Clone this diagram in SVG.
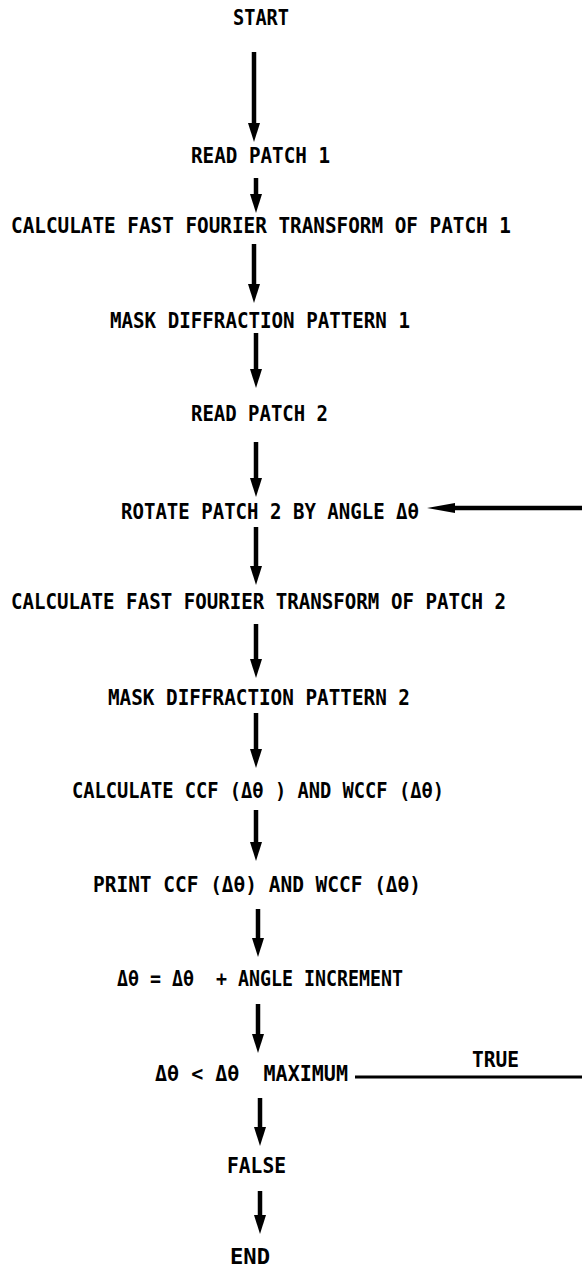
<svg xmlns="http://www.w3.org/2000/svg" width="582" height="1268" viewBox="0 0 582 1268">
<defs>
<style>
.t{font-family:"DejaVu Sans Mono","Liberation Mono",monospace;font-weight:bold;font-size:21px;fill:#000;white-space:pre}
.c{stroke:#000;stroke-width:4.5;fill:none}
.ln{stroke:#000;stroke-width:3;fill:none}
</style>
<marker id="ah" markerUnits="userSpaceOnUse" viewBox="0 0 19 12" markerWidth="19" markerHeight="12" refX="6" refY="6" orient="auto">
<polygon points="0,0 19,6 0,12" fill="#000"/>
</marker>
<marker id="ahl" markerUnits="userSpaceOnUse" viewBox="0 0 28 10" markerWidth="28" markerHeight="10" refX="10" refY="5" orient="auto">
<polygon points="0,0 28,5 0,10" fill="#000"/>
</marker>
</defs>
<rect width="582" height="1268" fill="#fff"/>

<g id="connectors">
<path class="c" marker-end="url(#ah)" d="M254 52 V129"/>
<path class="c" marker-end="url(#ah)" d="M256 178 V200"/>
<path class="c" marker-end="url(#ah)" d="M254 244 V290"/>
<path class="c" marker-end="url(#ah)" d="M256 333 V375"/>
<path class="c" marker-end="url(#ah)" d="M256 442 V484"/>
<path class="c" marker-end="url(#ah)" d="M256 527 V572"/>
<path class="c" marker-end="url(#ah)" d="M256 624 V665"/>
<path class="c" marker-end="url(#ah)" d="M256 713 V755"/>
<path class="c" marker-end="url(#ah)" d="M256 810 V848"/>
<path class="c" marker-end="url(#ah)" d="M258 909 V944"/>
<path class="c" marker-end="url(#ah)" d="M258 1004 V1040"/>
<path class="c" marker-end="url(#ah)" d="M260 1098 V1133"/>
<path class="c" marker-end="url(#ah)" d="M260 1191 V1221"/>
<path class="c" marker-end="url(#ahl)" d="M582 508 H445"/>
<path class="ln" d="M355 1077 H582"/>
</g>

<g id="start"><text class="t" x="233" y="25" textLength="56" lengthAdjust="spacingAndGlyphs">START</text></g>
<g id="read1"><text class="t" x="191" y="163" textLength="139" lengthAdjust="spacingAndGlyphs">READ PATCH 1</text></g>
<g id="fft1"><text class="t" x="11" y="233" textLength="500" lengthAdjust="spacingAndGlyphs">CALCULATE FAST FOURIER TRANSFORM OF PATCH 1</text></g>
<g id="mask1"><text class="t" x="110" y="328" textLength="300" lengthAdjust="spacingAndGlyphs">MASK DIFFRACTION PATTERN 1</text></g>
<g id="read2"><text class="t" x="191" y="421" textLength="137" lengthAdjust="spacingAndGlyphs">READ PATCH 2</text></g>
<g id="rotate"><text class="t" x="121" y="519" textLength="298" lengthAdjust="spacingAndGlyphs">ROTATE PATCH 2 BY ANGLE Δθ</text></g>
<g id="fft2"><text class="t" x="11" y="609" textLength="495" lengthAdjust="spacingAndGlyphs">CALCULATE FAST FOURIER TRANSFORM OF PATCH 2</text></g>
<g id="mask2"><text class="t" x="108" y="705" textLength="302" lengthAdjust="spacingAndGlyphs">MASK DIFFRACTION PATTERN 2</text></g>
<g id="ccf"><text class="t" x="72" y="798" textLength="372" lengthAdjust="spacingAndGlyphs">CALCULATE CCF (Δθ ) AND WCCF (Δθ)</text></g>
<g id="print"><text class="t" x="93" y="892" textLength="328" lengthAdjust="spacingAndGlyphs">PRINT CCF (Δθ) AND WCCF (Δθ)</text></g>
<g id="incr"><text class="t" x="117" y="986" textLength="286" lengthAdjust="spacingAndGlyphs">Δθ = Δθ  + ANGLE INCREMENT</text></g>
<g id="test"><text class="t" x="155" y="1081" textLength="193" lengthAdjust="spacingAndGlyphs">Δθ &lt; Δθ  MAXIMUM</text></g>
<g id="true"><text class="t" x="472" y="1067" textLength="47" lengthAdjust="spacingAndGlyphs">TRUE</text></g>
<g id="false"><text class="t" x="227" y="1173" textLength="59" lengthAdjust="spacingAndGlyphs">FALSE</text></g>
<g id="end"><text class="t" x="230" y="1264" textLength="40" lengthAdjust="spacingAndGlyphs">END</text></g>
</svg>
